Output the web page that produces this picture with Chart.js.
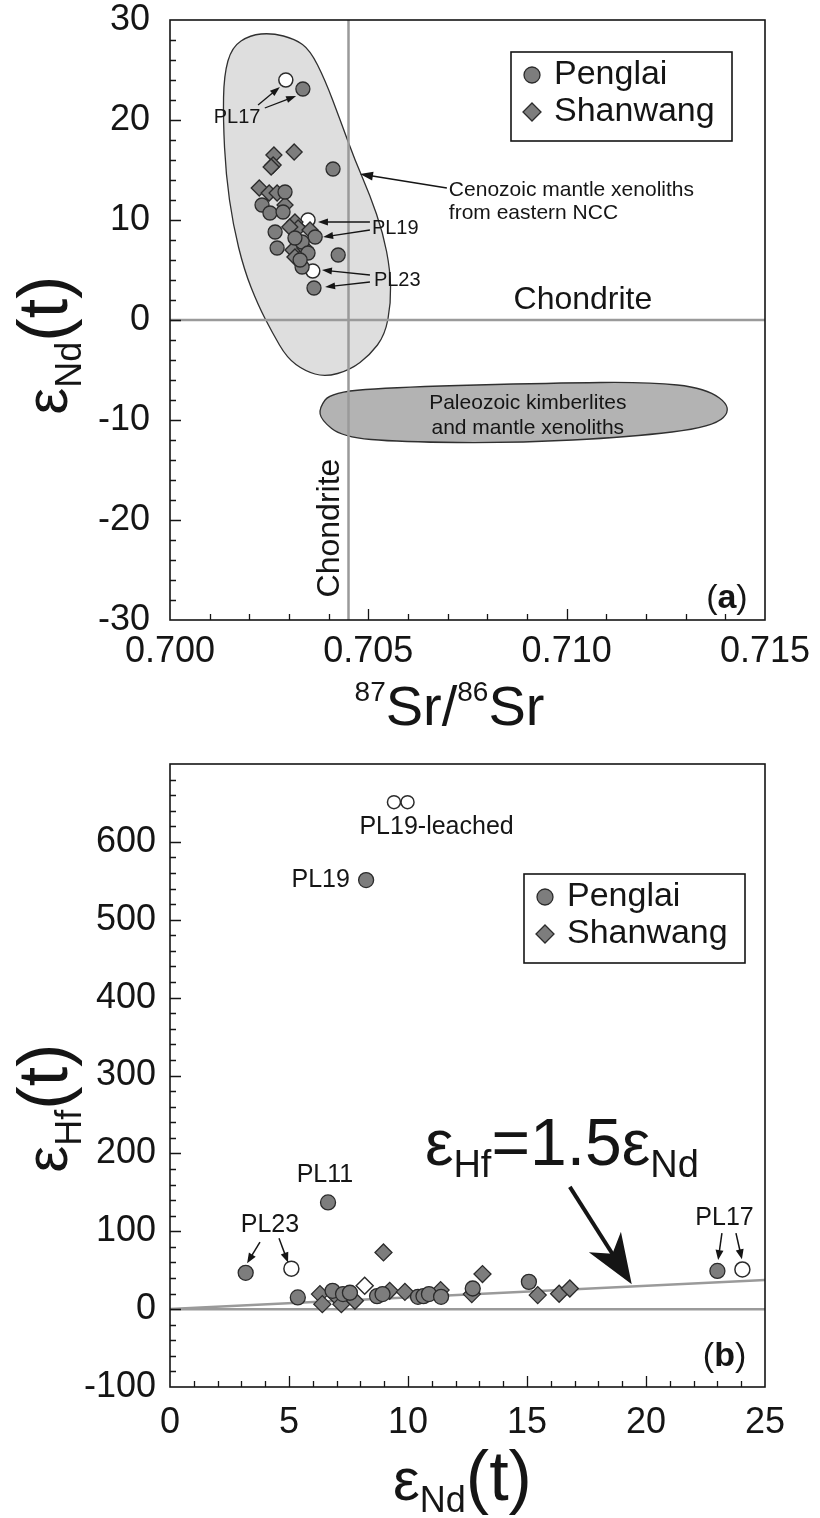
<!DOCTYPE html>
<html>
<head>
<meta charset="utf-8">
<script src="https://cdn.jsdelivr.net/npm/chart.js@4.4.1/dist/chart.umd.min.js"></script>
<style>
  html, body { margin: 0; padding: 0; background: #fff; }
  #boxA { position: absolute; left: 0; top: 0; width: 820px; height: 735px; }
  #boxB { position: absolute; left: 0; top: 735px; width: 820px; height: 783px; }
</style>
</head>
<body>
<div id="boxA"><canvas id="chartA"></canvas></div>
<div id="boxB"><canvas id="chartB"></canvas></div>
<script>
const FONT = "'Liberation Sans', Arial, Helvetica, sans-serif";
const INK = '#151515';
const MARK_FILL = '#7d7d7d';
const MARK_EDGE = '#2b2b2b';
const REF_GRAY = '#9a9a9a';

// ---------- panel (a): 87Sr/86Sr vs eNd(t) ----------
const srTicks = [0.700, 0.705, 0.710, 0.715];
const ndTicksA = [-30, -20, -10, 0, 10, 20, 30];

const penglaiSr = [0.70335, 0.70411, 0.70290, 0.70232, 0.70252, 0.70285, 0.70366, 0.70265,
                   0.70270, 0.70333, 0.70348, 0.70424, 0.70333, 0.70363, 0.70315, 0.70328];
const penglaiNd = [23.1, 15.1, 12.8, 11.5, 10.7, 10.8, 8.3, 8.8,
                   7.2, 7.8, 6.7, 6.5, 5.3, 3.2, 8.2, 6.0];
const shanwangSr = [0.70262, 0.70313, 0.70260, 0.70255, 0.70225, 0.70250, 0.70270, 0.70290,
                    0.70315, 0.70323, 0.70353, 0.70310, 0.70340, 0.70315, 0.70302];
const shanwangNd = [16.5, 16.8, 15.5, 15.3, 13.2, 12.7, 12.7, 11.5,
                    9.8, 9.2, 9.0, 7.0, 7.2, 6.3, 9.3];
const openSr = [0.70292, 0.70348, 0.70360];   // PL17, PL19, PL23 (open symbols)
const openNd = [24.0, 10.0, 4.9];

// field outlines, in data units
const cenozoicField = [[0.70202, 28.5], [0.70257, 28.7], [0.70315, 28.1], [0.70353, 27.0], [0.70391, 24.0],
  [0.70429, 20.0], [0.70466, 16.0], [0.70504, 12.5], [0.70537, 8.7], [0.70555, 5.0], [0.70557, 1.7],
  [0.70542, -1.5], [0.70504, -3.5], [0.70454, -5.0], [0.70391, -5.7], [0.70340, -5.1], [0.70295, -3.8],
  [0.70257, -1.2], [0.70222, 1.5], [0.70187, 5.0], [0.70159, 9.5], [0.70141, 14.5], [0.70134, 20.0],
  [0.70136, 24.5], [0.70156, 27.3]];
const paleozoicField = [[0.70376, -8.8], [0.70406, -7.2], [0.70580, -6.7], [0.70966, -6.3], [0.71207, -6.2],
  [0.71351, -6.8], [0.71419, -8.8], [0.71371, -10.7], [0.71160, -11.7], [0.70870, -12.3], [0.70580, -12.2],
  [0.70434, -11.7], [0.70381, -10.0]];
const chondriteSr = 0.7045;
const chondriteNd = 0;

// ---------- panel (b): eNd(t) vs eHf(t) ----------
const ndTicksB = [0, 5, 10, 15, 20, 25];
const hfTicks = [-100, 0, 100, 200, 300, 400, 500, 600];

const penglaiNdB = [3.18, 5.37, 6.64, 6.83, 7.27, 7.56, 8.24, 8.70, 8.93, 10.42, 10.65, 10.88, 11.39, 12.72, 15.08, 23.0];
const penglaiHf = [46.6, 15, 137, 23.5, 19.3, 21, 551, 16.7, 19.3, 15.8, 16.7, 19.3, 15.8, 26.5, 35, 49];
const shanwangNdB = [6.3, 6.4, 7.0, 7.2, 7.77, 8.97, 9.23, 9.87, 11.37, 12.68, 13.13, 15.45, 16.35, 16.8];
const shanwangHf = [19.3, 6.4, 15.8, 6.4, 10.7, 72.8, 23.5, 22.2, 24.4, 19.3, 45, 18, 19.8, 26.5];
const openNdB = [5.10, 24.05, 9.41, 9.98];    // PL23, PL17, PL19-leached x2
const openHf = [52, 51, 651, 651];
const openDiamondNd = [8.18];
const openDiamondHf = [30];
const refLine = [[0, 0], [25, 37.5]];          // eHf = 1.5 eNd

const pts = (xs, ys) => xs.map((x, i) => ({ x: x, y: ys[i] }));

// ---------- drawing helpers ----------
function fontStr(p) { return (p.bold ? 'bold ' : '') + p.size + 'px ' + FONT; }

function drawRich(ctx, parts, x, y, align) {
  let w = 0;
  parts.forEach(p => { ctx.font = fontStr(p); w += ctx.measureText(p.t).width; });
  let cx = align === 'center' ? x - w / 2 : (align === 'right' ? x - w : x);
  ctx.textAlign = 'left';
  ctx.textBaseline = 'alphabetic';
  parts.forEach(p => {
    ctx.font = fontStr(p);
    ctx.fillText(p.t, cx, y + (p.dy || 0));
    cx += ctx.measureText(p.t).width;
  });
}

function text(ctx, s, x, y, size, align, rot) {
  ctx.save();
  ctx.fillStyle = INK;
  ctx.font = size + 'px ' + FONT;
  ctx.textAlign = align || 'center';
  ctx.textBaseline = 'middle';
  ctx.translate(x, y);
  if (rot) ctx.rotate(rot);
  ctx.fillText(s, 0, 0);
  ctx.restore();
}

function arrow(ctx, x1, y1, x2, y2, len, wid, lw, notch) {
  const a = Math.atan2(y2 - y1, x2 - x1);
  const c = Math.cos(a), s = Math.sin(a);
  const bx = x2 - len * c, by = y2 - len * s;
  const nx = x2 - len * (notch || 1) * c, ny = y2 - len * (notch || 1) * s;
  ctx.save();
  ctx.strokeStyle = INK; ctx.fillStyle = INK; ctx.lineWidth = lw;
  ctx.beginPath(); ctx.moveTo(x1, y1); ctx.lineTo(nx + 2 * c, ny + 2 * s); ctx.stroke();
  ctx.beginPath();
  ctx.moveTo(x2, y2);
  ctx.lineTo(bx - wid / 2 * s, by + wid / 2 * c);
  ctx.lineTo(nx, ny);
  ctx.lineTo(bx + wid / 2 * s, by - wid / 2 * c);
  ctx.closePath(); ctx.fill();
  ctx.restore();
}

function smoothField(ctx, p) {
  const n = p.length;
  const mid = (a, b) => [(a[0] + b[0]) / 2, (a[1] + b[1]) / 2];
  const m0 = mid(p[n - 1], p[0]);
  ctx.beginPath(); ctx.moveTo(m0[0], m0[1]);
  for (let i = 0; i < n; i++) {
    const m = mid(p[i], p[(i + 1) % n]);
    ctx.quadraticCurveTo(p[i][0], p[i][1], m[0], m[1]);
  }
  ctx.closePath();
}

function frameAndTicks(c, xs, ys) {
  const ctx = c.ctx, a = c.chartArea, sx = c.scales.x, sy = c.scales.y;
  ctx.save();
  ctx.strokeStyle = INK; ctx.lineWidth = 1.6;
  ctx.strokeRect(a.left, a.top, a.right - a.left, a.bottom - a.top);
  ctx.lineWidth = 1.3;
  ctx.beginPath();
  const nx = Math.round((xs.max - xs.min) / xs.step);
  for (let i = 1; i < nx; i++) {
    const p = Math.round(sx.getPixelForValue(xs.min + i * xs.step)) + 0.5;
    const len = i % xs.every === 0 ? 11 : 6;
    ctx.moveTo(p, a.bottom); ctx.lineTo(p, a.bottom - len);
  }
  const ny = Math.round((ys.max - ys.min) / ys.step);
  for (let i = 1; i < ny; i++) {
    const p = Math.round(sy.getPixelForValue(ys.min + i * ys.step)) + 0.5;
    const len = i % ys.every === 0 ? 11 : 6;
    ctx.moveTo(a.left, p); ctx.lineTo(a.left + len, p);
  }
  ctx.stroke();
  ctx.restore();
}

function legendBox(ctx, left, top) {
  ctx.save();
  ctx.fillStyle = '#fff';
  ctx.fillRect(left, top, 221, 89);
  ctx.strokeStyle = INK; ctx.lineWidth = 1.6;
  ctx.strokeRect(left, top, 221, 89);
  ctx.fillStyle = MARK_FILL; ctx.strokeStyle = MARK_EDGE; ctx.lineWidth = 1.3;
  ctx.beginPath(); ctx.arc(left + 21, top + 23, 8, 0, Math.PI * 2); ctx.fill(); ctx.stroke();
  const dx = left + 21, dy = top + 60;
  ctx.beginPath(); ctx.moveTo(dx, dy - 9); ctx.lineTo(dx + 9, dy); ctx.lineTo(dx, dy + 9); ctx.lineTo(dx - 9, dy);
  ctx.closePath(); ctx.fill(); ctx.stroke();
  ctx.fillStyle = INK; ctx.font = '34px ' + FONT; ctx.textAlign = 'left'; ctx.textBaseline = 'middle';
  ctx.fillText('Penglai', left + 43, top + 23);
  ctx.fillText('Shanwang', left + 43, top + 60);
  ctx.restore();
}

const decorA = {
  id: 'decorA',
  beforeDatasetsDraw(c) {
    const ctx = c.ctx, a = c.chartArea, sx = c.scales.x, sy = c.scales.y;
    const map = f => f.map(p => [sx.getPixelForValue(p[0]), sy.getPixelForValue(p[1])]);
    ctx.save();
    ctx.beginPath(); ctx.rect(a.left, a.top, a.right - a.left, a.bottom - a.top); ctx.clip();
    ctx.strokeStyle = '#303030'; ctx.lineWidth = 1.3;
    smoothField(ctx, map(cenozoicField)); ctx.fillStyle = '#dedede'; ctx.fill(); ctx.stroke();
    smoothField(ctx, map(paleozoicField)); ctx.fillStyle = '#b3b3b3'; ctx.fill(); ctx.stroke();
    ctx.strokeStyle = REF_GRAY; ctx.lineWidth = 2.5;
    const vx = sx.getPixelForValue(chondriteSr), hy = sy.getPixelForValue(chondriteNd);
    ctx.beginPath();
    ctx.moveTo(vx, a.top); ctx.lineTo(vx, a.bottom);
    ctx.moveTo(a.left, hy); ctx.lineTo(a.right, hy);
    ctx.stroke();
    ctx.restore();
  },
  afterDatasetsDraw(c) {
    const ctx = c.ctx, a = c.chartArea, sx = c.scales.x, sy = c.scales.y;
    const X = v => sx.getPixelForValue(v), Y = v => sy.getPixelForValue(v);
    frameAndTicks(c, { min: 0.700, max: 0.715, step: 0.001, every: 5 }, { min: -30, max: 30, step: 2, every: 5 });

    text(ctx, 'Cenozoic mantle xenoliths', X(0.70703), Y(13.0), 21, 'left');
    text(ctx, 'from eastern NCC', X(0.70703), Y(10.7), 21, 'left');
    arrow(ctx, X(0.70698), Y(13.2), X(0.70479), Y(14.6), 13, 9, 1.5);
    text(ctx, 'Chondrite', X(0.71041), Y(2.0), 32, 'center');
    text(ctx, 'Chondrite', X(0.70403), Y(-20.8), 32, 'center', -Math.PI / 2);
    text(ctx, 'Paleozoic kimberlites', X(0.70902), Y(-8.3), 21, 'center');
    text(ctx, 'and mantle xenoliths', X(0.70902), Y(-10.8), 21, 'center');

    text(ctx, 'PL17', X(0.70169), Y(20.3), 20, 'center');
    arrow(ctx, X(0.70222), Y(21.5), X(0.70277), Y(23.3), 10, 7, 1.3);
    arrow(ctx, X(0.70239), Y(21.2), X(0.70318), Y(22.4), 10, 7, 1.3);
    text(ctx, 'PL19', X(0.70509), Y(9.2), 20, 'left');
    arrow(ctx, X(0.70504), Y(9.8), X(0.70373), Y(9.8), 10, 7, 1.3);
    arrow(ctx, X(0.70504), Y(9.0), X(0.70386), Y(8.3), 10, 7, 1.3);
    text(ctx, 'PL23', X(0.70514), Y(4.0), 20, 'left');
    arrow(ctx, X(0.70504), Y(4.5), X(0.70383), Y(5.0), 10, 7, 1.3);
    arrow(ctx, X(0.70504), Y(3.8), X(0.70391), Y(3.3), 10, 7, 1.3);

    ctx.save(); ctx.fillStyle = INK;
    drawRich(ctx, [{ t: '(', size: 34 }, { t: 'a', size: 34, bold: true }, { t: ')', size: 34 }], X(0.71404), Y(-28.8), 'center');
    ctx.restore();

    legendBox(ctx, a.left + 341, a.top + 32);

    // axis titles
    ctx.save(); ctx.fillStyle = INK;
    drawRich(ctx, [{ t: '87', size: 28, dy: -24 }, { t: 'Sr/', size: 56 }, { t: '86', size: 28, dy: -24 }, { t: 'Sr', size: 56 }],
      (a.left + a.right) / 2 - 18, 725, 'center');
    ctx.translate(67, 345); ctx.rotate(-Math.PI / 2);
    drawRich(ctx, [{ t: 'ε', size: 60 }, { t: 'Nd', size: 36, dy: 14 }, { t: '(t)', size: 70 }], 0, 0, 'center');
    ctx.restore();
  }
};

const decorB = {
  id: 'decorB',
  beforeDatasetsDraw(c) {
    const ctx = c.ctx, a = c.chartArea, sx = c.scales.x, sy = c.scales.y;
    ctx.save();
    ctx.beginPath(); ctx.rect(a.left, a.top, a.right - a.left, a.bottom - a.top); ctx.clip();
    ctx.strokeStyle = REF_GRAY; ctx.lineWidth = 2.5;
    ctx.beginPath();
    ctx.moveTo(a.left, sy.getPixelForValue(0)); ctx.lineTo(a.right, sy.getPixelForValue(0));
    ctx.moveTo(sx.getPixelForValue(refLine[0][0]), sy.getPixelForValue(refLine[0][1]));
    ctx.lineTo(sx.getPixelForValue(refLine[1][0]), sy.getPixelForValue(refLine[1][1]));
    ctx.stroke();
    ctx.restore();
  },
  afterDatasetsDraw(c) {
    const ctx = c.ctx, a = c.chartArea, sx = c.scales.x, sy = c.scales.y;
    const X = v => sx.getPixelForValue(v), Y = v => sy.getPixelForValue(v);
    frameAndTicks(c, { min: 0, max: 25, step: 1, every: 5 }, { min: -100, max: 700, step: 20, every: 5 });

    text(ctx, 'PL19-leached', X(11.2), Y(619), 25, 'center');
    text(ctx, 'PL19', X(7.56), Y(551), 25, 'right');
    text(ctx, 'PL11', X(6.51), Y(172), 25, 'center');
    text(ctx, 'PL23', X(4.2), Y(108), 25, 'center');
    arrow(ctx, X(3.78), Y(86), X(3.24), Y(59), 10, 8, 1.5);
    arrow(ctx, X(4.58), Y(91), X(4.96), Y(60), 10, 8, 1.5);
    text(ctx, 'PL17', X(23.3), Y(117), 25, 'center');
    arrow(ctx, X(23.19), Y(97.6), X(23.03), Y(63), 10, 8, 1.5);
    arrow(ctx, X(23.78), Y(97.6), X(24.03), Y(64), 10, 8, 1.5);

    ctx.save(); ctx.fillStyle = INK;
    drawRich(ctx, [{ t: 'ε', size: 64 }, { t: 'Hf', size: 38, dy: 12 }, { t: '=1.5', size: 66 },
                   { t: 'ε', size: 64 }, { t: 'Nd', size: 38, dy: 12 }], X(10.71), Y(185), 'left');
    ctx.restore();
    arrow(ctx, X(16.8), Y(157), X(19.4), Y(32), 50, 38, 4, 0.72);

    ctx.save(); ctx.fillStyle = INK;
    drawRich(ctx, [{ t: '(', size: 34 }, { t: 'b', size: 34, bold: true }, { t: ')', size: 34 }], X(23.3), Y(-73), 'center');
    ctx.restore();

    legendBox(ctx, a.left + 354, a.top + 110);

    ctx.save(); ctx.fillStyle = INK;
    drawRich(ctx, [{ t: 'ε', size: 60 }, { t: 'Nd', size: 36, dy: 12 }, { t: '(t)', size: 70 }],
      (a.left + a.right) / 2 - 5, 765, 'center');
    ctx.translate(67, 373); ctx.rotate(-Math.PI / 2);
    drawRich(ctx, [{ t: 'ε', size: 60 }, { t: 'Hf', size: 36, dy: 14 }, { t: '(t)', size: 70 }], 0, 0, 'center');
    ctx.restore();
  }
};

Chart.defaults.font.family = FONT;

const tickFont = { size: 36, family: FONT };
const filled = { backgroundColor: MARK_FILL, borderColor: MARK_EDGE, borderWidth: 1.3 };
const hollow = { backgroundColor: '#ffffff', borderColor: MARK_EDGE, borderWidth: 1.5 };

// fixed axis sizes so the plot box sits where the figure has it
const fitY = s => { s.width = 170; s.paddingTop = 0; s.paddingBottom = 0; };
const fitX = h => s => { s.height = h; s.paddingLeft = 0; s.paddingRight = 0; };

new Chart(document.getElementById('chartA'), {
  type: 'scatter',
  data: {
    datasets: [
      { label: 'Penglai', data: pts(penglaiSr, penglaiNd), pointStyle: 'circle', pointRadius: 7, ...filled },
      { label: 'Shanwang', data: pts(shanwangSr, shanwangNd), pointStyle: 'rectRot', pointRadius: 8, ...filled },
      { label: 'open', data: pts(openSr, openNd), pointStyle: 'circle', pointRadius: 7, ...hollow }
    ]
  },
  options: {
    responsive: true, maintainAspectRatio: false, animation: false, devicePixelRatio: 1,
    layout: { padding: { top: 20, right: 55, left: 0, bottom: 0 } },
    plugins: { legend: { display: false }, tooltip: { enabled: false } },
    events: [],
    scales: {
      x: {
        type: 'linear', min: 0.700, max: 0.715,
        afterBuildTicks: s => { s.ticks = srTicks.map(v => ({ value: v })); },
        afterFit: fitX(115),
        grid: { display: false, drawTicks: false }, border: { display: false },
        ticks: { padding: 10, color: INK, font: tickFont, maxRotation: 0, autoSkip: false, callback: v => v.toFixed(3) }
      },
      y: {
        type: 'linear', min: -30, max: 30,
        afterBuildTicks: s => { s.ticks = ndTicksA.map(v => ({ value: v })); },
        afterFit: fitY,
        grid: { display: false, drawTicks: false }, border: { display: false },
        ticks: { padding: 20, color: INK, font: tickFont, autoSkip: false }
      }
    }
  },
  plugins: [decorA]
});

new Chart(document.getElementById('chartB'), {
  type: 'scatter',
  data: {
    datasets: [
      { label: 'Penglai', data: pts(penglaiNdB, penglaiHf), pointStyle: 'circle', pointRadius: 7.5, ...filled },
      { label: 'Shanwang', data: pts(shanwangNdB, shanwangHf), pointStyle: 'rectRot', pointRadius: 8.5, ...filled },
      { label: 'open', data: pts(openNdB, openHf), pointStyle: 'circle', pointRadius: [7.5, 7.5, 6.5, 6.5], ...hollow },
      { label: 'open diamond', data: pts(openDiamondNd, openDiamondHf), pointStyle: 'rectRot', pointRadius: 8.5, ...hollow }
    ]
  },
  options: {
    responsive: true, maintainAspectRatio: false, animation: false, devicePixelRatio: 1,
    layout: { padding: { top: 29, right: 55, left: 0, bottom: 0 } },
    plugins: { legend: { display: false }, tooltip: { enabled: false } },
    events: [],
    scales: {
      x: {
        type: 'linear', min: 0, max: 25,
        afterBuildTicks: s => { s.ticks = ndTicksB.map(v => ({ value: v })); },
        afterFit: fitX(131),
        grid: { display: false, drawTicks: false }, border: { display: false },
        ticks: { padding: 14, color: INK, font: tickFont, maxRotation: 0, autoSkip: false }
      },
      y: {
        type: 'linear', min: -100, max: 700,
        afterBuildTicks: s => { s.ticks = hfTicks.map(v => ({ value: v })); },
        afterFit: fitY,
        grid: { display: false, drawTicks: false }, border: { display: false },
        ticks: { padding: 14, color: INK, font: tickFont, autoSkip: false }
      }
    }
  },
  plugins: [decorB]
});
</script>
</body>
</html>
